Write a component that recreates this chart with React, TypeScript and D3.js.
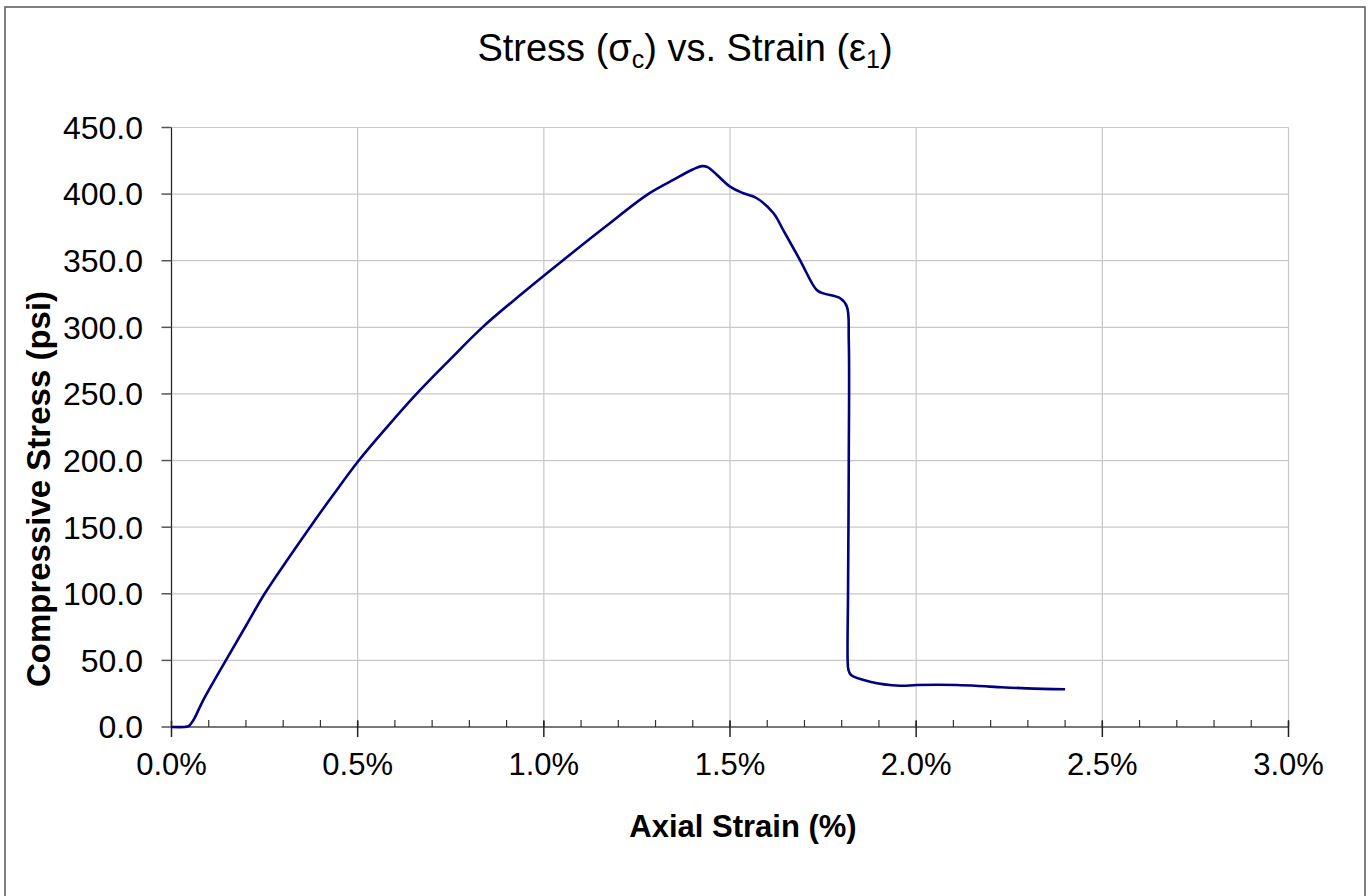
import React from "react";
import * as d3 from "d3";

const strain = [0, 0.035, 0.046, 0.059, 0.085, 0.146, 0.2, 0.25, 0.31, 0.372, 0.435, 0.503, 0.58, 0.658, 0.745, 0.835, 0.94, 1.05, 1.165, 1.28, 1.35, 1.4, 1.425, 1.44, 1.5, 1.536, 1.572, 1.617, 1.643, 1.688, 1.733, 1.751, 1.796, 1.814, 1.819, 1.819, 1.817, 1.816, 1.818, 1.825, 1.876, 1.957, 2.002, 2.109, 2.198, 2.297, 2.4];
const stress = [0, 0, 0.6, 5.3, 20, 50, 76, 100, 125, 150, 174.5, 200, 225.5, 250, 275, 300, 325, 350, 375.5, 400, 411, 418.5, 421, 420.3, 405.6, 400.6, 396.9, 385.6, 373, 350.5, 328, 325.5, 321.8, 315.5, 290, 200, 100, 50, 43, 39, 34, 31, 31.5, 31.5, 30.3, 29, 28.3];

const xTicks = [0, 0.5, 1.0, 1.5, 2.0, 2.5, 3.0];
const xMinor = d3.range(0, 31).map((i) => i / 10);
const yTicks = [0, 50, 100, 150, 200, 250, 300, 350, 400, 450];

const FONT = "'Liberation Sans', Arial, sans-serif";

export default function App() {
  const left = 171.5, right = 1288.5, top = 127.5, bottom = 727;
  const x = d3.scaleLinear().domain([0, 3]).range([left, right]);
  const y = d3.scaleLinear().domain([0, 450]).range([bottom, top]);
  const pts: [number, number][] = strain.map((s, i) => [s, stress[i]]);
  const line = d3
    .line<[number, number]>()
    .x((d) => x(d[0]))
    .y((d) => y(d[1]))
    .curve(d3.curveCatmullRom.alpha(0.5));

  return (
    <svg width={1369} height={896} style={{ position: "absolute", left: 0, top: 0, background: "#fff" }} fontFamily={FONT}>
      <rect x={5} y={7} width={1360} height={900} fill="#fff" stroke="#555" strokeWidth={1.5} />
      {yTicks.map((t) => (
        <line key={"gy" + t} x1={left} x2={right} y1={y(t)} y2={y(t)} stroke="#c8c8c8" strokeWidth={1.2} />
      ))}
      {xTicks.map((t) => (
        <line key={"gx" + t} x1={x(t)} x2={x(t)} y1={top} y2={bottom} stroke="#c8c8c8" strokeWidth={1.2} />
      ))}
      <line x1={left} x2={left} y1={top} y2={bottom} stroke="#222" strokeWidth={1.2} />
      <line x1={left} x2={right} y1={bottom} y2={bottom} stroke="#555" strokeWidth={1.5} />
      {yTicks.map((t) => (
        <line key={"ty" + t} x1={left - 10} x2={left} y1={y(t)} y2={y(t)} stroke="#555" strokeWidth={1.5} />
      ))}
      {xMinor.map((t, i) => (
        <line key={"tm" + i} x1={x(t)} x2={x(t)} y1={bottom - 7} y2={bottom} stroke="#333" strokeWidth={1.2} />
      ))}
      {xTicks.map((t) => (
        <line key={"tx" + t} x1={x(t)} x2={x(t)} y1={bottom - 6} y2={bottom + 10} stroke="#222" strokeWidth={1.5} />
      ))}
      {yTicks.map((t) => (
        <text key={"ly" + t} x={143} y={y(t)} dy="0.355em" textAnchor="end" fontSize={32} fill="#000">
          {t.toFixed(1)}
        </text>
      ))}
      {xTicks.map((t) => (
        <text key={"lx" + t} x={x(t)} y={775} textAnchor="middle" fontSize={31} fill="#000">
          {t.toFixed(1) + "%"}
        </text>
      ))}
      <path d={line(pts) || ""} fill="none" stroke="#000080" strokeWidth={2.6} strokeLinejoin="round" />
      <text x={685} y={61} textAnchor="middle" fontSize={38} fill="#000">
        Stress (σ<tspan fontSize={25} dy={7}>c</tspan><tspan dy={-7}>) vs. Strain (ε</tspan><tspan fontSize={25} dy={7}>1</tspan><tspan dy={-7}>)</tspan>
      </text>
      <text x={743} y={837} textAnchor="middle" fontSize={31} fontWeight="bold" fill="#000">
        Axial Strain (%)
      </text>
      <text transform={`translate(50,489) rotate(-90)`} textAnchor="middle" fontSize={33} fontWeight="bold" fill="#000">
        Compressive Stress (psi)
      </text>
    </svg>
  );
}
